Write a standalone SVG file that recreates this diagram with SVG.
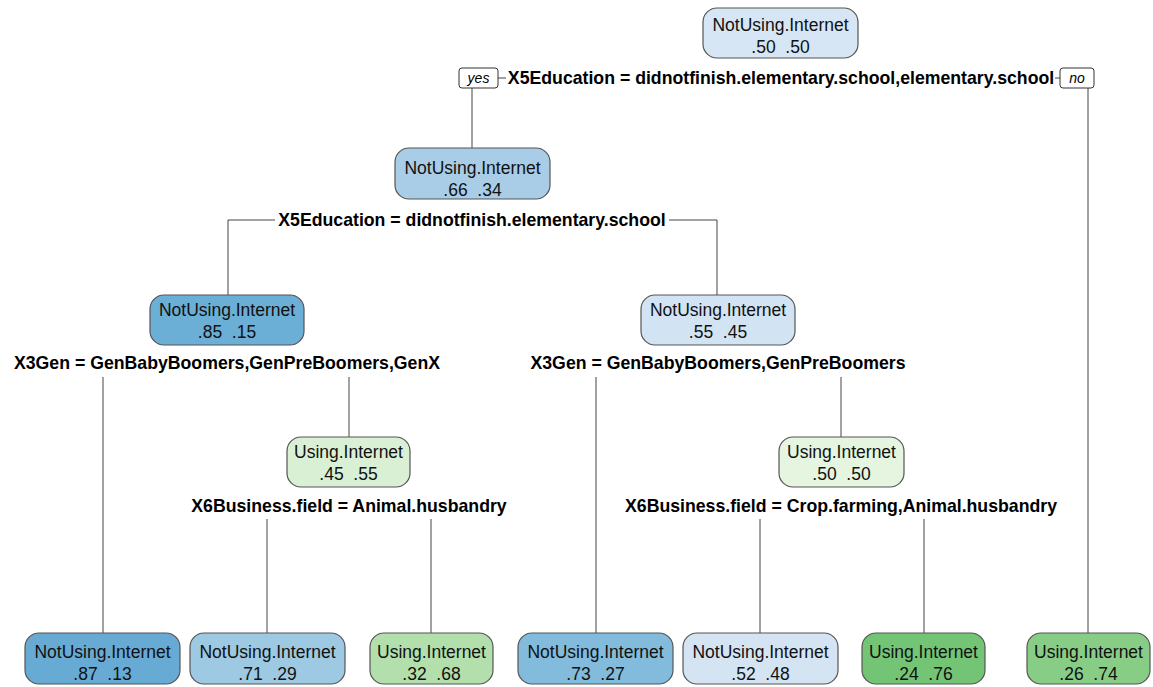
<svg xmlns="http://www.w3.org/2000/svg" width="1153" height="687" viewBox="0 0 1153 687">
<style>
.n rect{stroke:#555;stroke-width:1.2}
.t{font-family:"Liberation Sans",Arial,sans-serif;font-size:17.5px;text-anchor:middle;fill:#111;white-space:pre}
.s{font-family:"Liberation Sans",Arial,sans-serif;font-size:17.7px;font-weight:bold;text-anchor:middle;fill:#000}
.yn{font-family:"Liberation Sans",Arial,sans-serif;font-size:14px;font-style:italic;text-anchor:middle;fill:#000}
.c path{fill:none;stroke:#444;stroke-width:1}
</style>
<rect width="1153" height="687" fill="#fff"/>
<g class="c" id="connectors">
<path d="M472 88V148"/>
<path d="M498 78H506"/>
<path d="M1055 78H1060"/>
<path d="M1088 88V633"/>
<path d="M228 295V220H275"/>
<path d="M669 220H717V295"/>
<path d="M103 377V633"/>
<path d="M349 377V437"/>
<path d="M596 377V633"/>
<path d="M841 377V437"/>
<path d="M267 519V633"/>
<path d="M431 519V633"/>
<path d="M760 519V633"/>
<path d="M924 519V633"/>
</g>
<g id="yes"><rect x="459" y="68" width="39" height="20" rx="3" fill="#fff" stroke="#333"/><text class="yn" x="478.5" y="83">yes</text></g>
<g id="no"><rect x="1060" y="68" width="34" height="20" rx="3" fill="#fff" stroke="#333"/><text class="yn" x="1077" y="83">no</text></g>
<g id="node1" class="n"><rect x="703" y="8" width="155" height="50" rx="14" fill="#D6E6F4"/><text class="t" x="780.5" y="31">NotUsing.Internet</text><text class="t" x="780.5" y="53" xml:space="preserve">.50  .50</text></g>
<text class="s" x="781" y="84">X5Education = didnotfinish.elementary.school,elementary.school</text>
<g id="node2" class="n"><rect x="395" y="148" width="155" height="51" rx="14" fill="#A9CDE6"/><text class="t" x="472.5" y="174">NotUsing.Internet</text><text class="t" x="472.5" y="196" xml:space="preserve">.66  .34</text></g>
<text class="s" x="472" y="226">X5Education = didnotfinish.elementary.school</text>
<g id="node3" class="n"><rect x="150" y="295" width="154" height="50" rx="14" fill="#6BAED6"/><text class="t" x="227" y="316">NotUsing.Internet</text><text class="t" x="227" y="338" xml:space="preserve">.85  .15</text></g>
<text class="s" x="227" y="369">X3Gen = GenBabyBoomers,GenPreBoomers,GenX</text>
<g id="node4" class="n"><rect x="641" y="295" width="154" height="50" rx="14" fill="#D2E3F3"/><text class="t" x="718" y="316">NotUsing.Internet</text><text class="t" x="718" y="338" xml:space="preserve">.55  .45</text></g>
<text class="s" x="718" y="369">X3Gen = GenBabyBoomers,GenPreBoomers</text>
<g id="node5" class="n"><rect x="287" y="437" width="123" height="50" rx="14" fill="#DAF0D5"/><text class="t" x="348.5" y="458">Using.Internet</text><text class="t" x="348.5" y="480" xml:space="preserve">.45  .55</text></g>
<text class="s" x="349" y="512">X6Business.field = Animal.husbandry</text>
<g id="node6" class="n"><rect x="779" y="437" width="125" height="50" rx="14" fill="#E5F5E0"/><text class="t" x="841.5" y="458">Using.Internet</text><text class="t" x="841.5" y="480" xml:space="preserve">.50  .50</text></g>
<text class="s" x="841" y="512">X6Business.field = Crop.farming,Animal.husbandry</text>
<g id="leaf1" class="n"><rect x="25" y="633" width="155" height="51" rx="14" fill="#67ABD5"/><text class="t" x="102.5" y="658">NotUsing.Internet</text><text class="t" x="102.5" y="680" xml:space="preserve">.87  .13</text></g>
<g id="leaf2" class="n"><rect x="190" y="633" width="155" height="51" rx="14" fill="#9DC9E2"/><text class="t" x="267.5" y="658">NotUsing.Internet</text><text class="t" x="267.5" y="680" xml:space="preserve">.71  .29</text></g>
<g id="leaf3" class="n"><rect x="370" y="633" width="123" height="51" rx="14" fill="#B2DFAC"/><text class="t" x="431.5" y="658">Using.Internet</text><text class="t" x="431.5" y="680" xml:space="preserve">.32  .68</text></g>
<g id="leaf4" class="n"><rect x="518" y="633" width="155" height="51" rx="14" fill="#82BBDB"/><text class="t" x="595.5" y="658">NotUsing.Internet</text><text class="t" x="595.5" y="680" xml:space="preserve">.73  .27</text></g>
<g id="leaf5" class="n"><rect x="683" y="633" width="155" height="51" rx="14" fill="#D4E4F3"/><text class="t" x="760.5" y="658">NotUsing.Internet</text><text class="t" x="760.5" y="680" xml:space="preserve">.52  .48</text></g>
<g id="leaf6" class="n"><rect x="862" y="633" width="123" height="51" rx="14" fill="#74C476"/><text class="t" x="923.5" y="658">Using.Internet</text><text class="t" x="923.5" y="680" xml:space="preserve">.24  .76</text></g>
<g id="leaf7" class="n"><rect x="1027" y="633" width="123" height="51" rx="14" fill="#88CD86"/><text class="t" x="1088.5" y="658">Using.Internet</text><text class="t" x="1088.5" y="680" xml:space="preserve">.26  .74</text></g>
</svg>
